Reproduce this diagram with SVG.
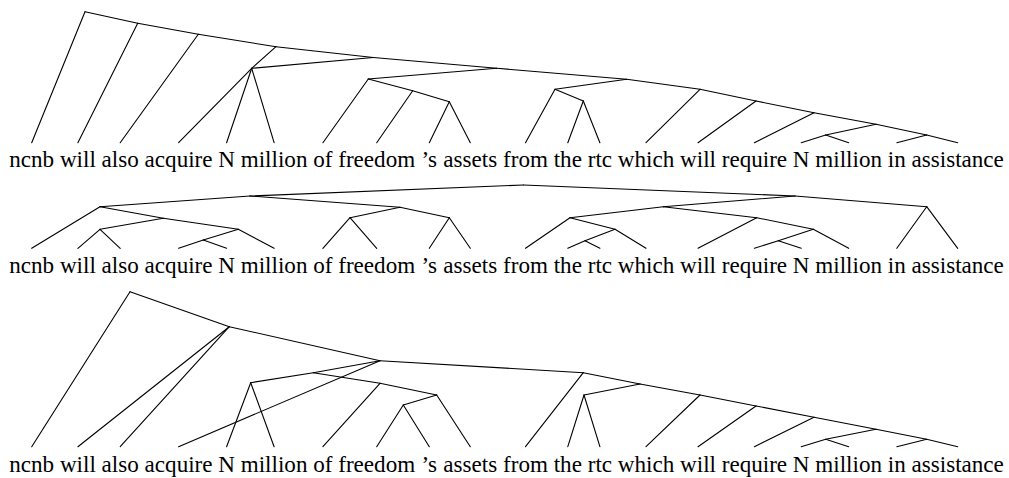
<svg xmlns="http://www.w3.org/2000/svg" width="1009" height="478" viewBox="0 0 1009 478">
<style>
.c line{stroke:#000;stroke-width:1.1;fill:none;stroke-linecap:round}
.w text{font-family:'Liberation Serif',serif;font-size:23.1px;fill:#000;text-anchor:middle}
</style>
<rect width="1009" height="478" fill="#fff"/>
<g id="connectors" class="c">
<!-- tree 1 -->
<line x1="85" y1="11.7" x2="31.7" y2="142.7"/>
<line x1="85" y1="11.7" x2="137.7" y2="23.3"/>
<line x1="137.7" y1="23.3" x2="77.9" y2="142.7"/>
<line x1="137.7" y1="23.3" x2="198.3" y2="34.3"/>
<line x1="198.3" y1="34.3" x2="120.2" y2="142.7"/>
<line x1="198.3" y1="34.3" x2="276" y2="46.7"/>
<line x1="276" y1="46.7" x2="251.7" y2="68.3"/>
<line x1="251.7" y1="68.3" x2="178.6" y2="142.7"/>
<line x1="251.7" y1="68.3" x2="226.6" y2="142.7"/>
<line x1="251.7" y1="68.3" x2="274.1" y2="142.7"/>
<line x1="251.7" y1="68.3" x2="373.3" y2="57.5"/>
<line x1="276" y1="46.7" x2="373.3" y2="57.5"/>
<line x1="373.3" y1="57.5" x2="496.7" y2="68.3"/>
<line x1="496.7" y1="68.3" x2="368.3" y2="79"/>
<line x1="368.3" y1="79" x2="322.9" y2="142.7"/>
<line x1="368.3" y1="79" x2="412.7" y2="90.7"/>
<line x1="412.7" y1="90.7" x2="376.7" y2="142.7"/>
<line x1="412.7" y1="90.7" x2="449.3" y2="101.7"/>
<line x1="449.3" y1="101.7" x2="429.3" y2="142.7"/>
<line x1="449.3" y1="101.7" x2="470.3" y2="142.7"/>
<line x1="496.7" y1="68.3" x2="626.7" y2="79.3"/>
<line x1="626.7" y1="79.3" x2="555" y2="89.3"/>
<line x1="555" y1="89.3" x2="525.5" y2="142.7"/>
<line x1="555" y1="89.3" x2="583.3" y2="101"/>
<line x1="583.3" y1="101" x2="567.8" y2="142.7"/>
<line x1="583.3" y1="101" x2="599.9" y2="142.7"/>
<line x1="626.7" y1="79.3" x2="700" y2="89.3"/>
<line x1="700" y1="89.3" x2="646" y2="142.7"/>
<line x1="700" y1="89.3" x2="756" y2="101"/>
<line x1="756" y1="101" x2="698" y2="142.7"/>
<line x1="756" y1="101" x2="814" y2="112.7"/>
<line x1="814" y1="112.7" x2="754.4" y2="142.7"/>
<line x1="814" y1="112.7" x2="876" y2="124.3"/>
<line x1="876" y1="124.3" x2="825.7" y2="135"/>
<line x1="825.7" y1="135" x2="801.2" y2="142.7"/>
<line x1="825.7" y1="135" x2="848.7" y2="142.7"/>
<line x1="876" y1="124.3" x2="926.7" y2="135"/>
<line x1="926.7" y1="135" x2="896.8" y2="142.7"/>
<line x1="926.7" y1="135" x2="957.7" y2="142.7"/>
<!-- tree 2 -->
<line x1="523.3" y1="185" x2="250" y2="196"/>
<line x1="523.3" y1="185" x2="795" y2="196"/>
<line x1="250" y1="196" x2="100" y2="206.7"/>
<line x1="250" y1="196" x2="400" y2="207.3"/>
<line x1="100" y1="206.7" x2="31.7" y2="248.3"/>
<line x1="100" y1="206.7" x2="163.3" y2="218.3"/>
<line x1="163.3" y1="218.3" x2="100" y2="229.3"/>
<line x1="100" y1="229.3" x2="77.9" y2="248.3"/>
<line x1="100" y1="229.3" x2="120.2" y2="248.3"/>
<line x1="163.3" y1="218.3" x2="238.3" y2="229.3"/>
<line x1="238.3" y1="229.3" x2="203.3" y2="240"/>
<line x1="203.3" y1="240" x2="178.6" y2="248.3"/>
<line x1="203.3" y1="240" x2="226.6" y2="248.3"/>
<line x1="238.3" y1="229.3" x2="274.1" y2="248.3"/>
<line x1="400" y1="207.3" x2="350" y2="217.7"/>
<line x1="350" y1="217.7" x2="322.9" y2="248.3"/>
<line x1="350" y1="217.7" x2="376.7" y2="248.3"/>
<line x1="400" y1="207.3" x2="449.3" y2="217.7"/>
<line x1="449.3" y1="217.7" x2="429.3" y2="248.3"/>
<line x1="449.3" y1="217.7" x2="470.3" y2="248.3"/>
<line x1="795" y1="196" x2="663.3" y2="206.7"/>
<line x1="663.3" y1="206.7" x2="570" y2="217.7"/>
<line x1="570" y1="217.7" x2="525.5" y2="248.3"/>
<line x1="570" y1="217.7" x2="615" y2="229.3"/>
<line x1="615" y1="229.3" x2="585" y2="240.7"/>
<line x1="585" y1="240.7" x2="567.8" y2="248.3"/>
<line x1="585" y1="240.7" x2="599.9" y2="248.3"/>
<line x1="615" y1="229.3" x2="646" y2="248.3"/>
<line x1="663.3" y1="206.7" x2="756.7" y2="217.7"/>
<line x1="756.7" y1="217.7" x2="698" y2="248.3"/>
<line x1="756.7" y1="217.7" x2="813.3" y2="229.3"/>
<line x1="813.3" y1="229.3" x2="778.3" y2="240.7"/>
<line x1="778.3" y1="240.7" x2="754.4" y2="248.3"/>
<line x1="778.3" y1="240.7" x2="801.2" y2="248.3"/>
<line x1="813.3" y1="229.3" x2="848.7" y2="248.3"/>
<line x1="795" y1="196" x2="926.7" y2="206.7"/>
<line x1="926.7" y1="206.7" x2="896.8" y2="248.3"/>
<line x1="926.7" y1="206.7" x2="957.7" y2="248.3"/>
<!-- tree 3 -->
<line x1="130" y1="291.7" x2="31.7" y2="446.7"/>
<line x1="130" y1="291.7" x2="229.3" y2="326.7"/>
<line x1="229.3" y1="326.7" x2="77.9" y2="446.7"/>
<line x1="229.3" y1="326.7" x2="120.2" y2="446.7"/>
<line x1="229.3" y1="326.7" x2="380" y2="360.7"/>
<line x1="380" y1="360.7" x2="178.6" y2="446.7"/>
<line x1="380" y1="360.7" x2="313.3" y2="372.7"/>
<line x1="313.3" y1="372.7" x2="250.7" y2="382.7"/>
<line x1="250.7" y1="382.7" x2="226.6" y2="446.7"/>
<line x1="250.7" y1="382.7" x2="274.1" y2="446.7"/>
<line x1="313.3" y1="372.7" x2="380" y2="383.3"/>
<line x1="380" y1="383.3" x2="322.9" y2="446.7"/>
<line x1="380" y1="383.3" x2="436.7" y2="395"/>
<line x1="436.7" y1="395" x2="403.3" y2="405"/>
<line x1="403.3" y1="405" x2="376.7" y2="446.7"/>
<line x1="403.3" y1="405" x2="429.3" y2="446.7"/>
<line x1="436.7" y1="395" x2="470.3" y2="446.7"/>
<line x1="380" y1="360.7" x2="583.3" y2="372.7"/>
<line x1="583.3" y1="372.7" x2="525.5" y2="446.7"/>
<line x1="583.3" y1="372.7" x2="640" y2="384"/>
<line x1="640" y1="384" x2="584" y2="395"/>
<line x1="584" y1="395" x2="567.8" y2="446.7"/>
<line x1="584" y1="395" x2="599.9" y2="446.7"/>
<line x1="640" y1="384" x2="700" y2="395"/>
<line x1="700" y1="395" x2="646" y2="446.7"/>
<line x1="700" y1="395" x2="756" y2="406"/>
<line x1="756" y1="406" x2="698" y2="446.7"/>
<line x1="756" y1="406" x2="814" y2="417.3"/>
<line x1="814" y1="417.3" x2="754.4" y2="446.7"/>
<line x1="814" y1="417.3" x2="876" y2="429.3"/>
<line x1="876" y1="429.3" x2="825.7" y2="439.3"/>
<line x1="825.7" y1="439.3" x2="801.2" y2="446.7"/>
<line x1="825.7" y1="439.3" x2="848.7" y2="446.7"/>
<line x1="876" y1="429.3" x2="926.7" y2="439.3"/>
<line x1="926.7" y1="439.3" x2="896.8" y2="446.7"/>
<line x1="926.7" y1="439.3" x2="957.7" y2="446.7"/>
</g>
<g id="row1" class="w" font-family="Liberation Serif, serif" font-size="23.1">
<g id="t1-ncnb"><text x="31.7" y="167">ncnb</text></g>
<g id="t1-will"><text x="77.9" y="167">will</text></g>
<g id="t1-also"><text x="120.2" y="167">also</text></g>
<g id="t1-acquire"><text x="178.6" y="167">acquire</text></g>
<g id="t1-N"><text x="226.6" y="167">N</text></g>
<g id="t1-million"><text x="274.1" y="167">million</text></g>
<g id="t1-of"><text x="322.9" y="167">of</text></g>
<g id="t1-freedom"><text x="376.7" y="167">freedom</text></g>
<g id="t1-s"><text x="429.3" y="167">’s</text></g>
<g id="t1-assets"><text x="470.3" y="167">assets</text></g>
<g id="t1-from"><text x="525.5" y="167">from</text></g>
<g id="t1-the"><text x="567.8" y="167">the</text></g>
<g id="t1-rtc"><text x="599.9" y="167">rtc</text></g>
<g id="t1-which"><text x="646" y="167">which</text></g>
<g id="t1-will2"><text x="698" y="167">will</text></g>
<g id="t1-require"><text x="754.4" y="167">require</text></g>
<g id="t1-N2"><text x="801.2" y="167">N</text></g>
<g id="t1-million2"><text x="848.7" y="167">million</text></g>
<g id="t1-in"><text x="896.8" y="167">in</text></g>
<g id="t1-assistance"><text x="957.7" y="167">assistance</text></g>
</g>
<g id="row2" class="w" font-family="Liberation Serif, serif" font-size="23.1">
<g id="t2-ncnb"><text x="31.7" y="273">ncnb</text></g>
<g id="t2-will"><text x="77.9" y="273">will</text></g>
<g id="t2-also"><text x="120.2" y="273">also</text></g>
<g id="t2-acquire"><text x="178.6" y="273">acquire</text></g>
<g id="t2-N"><text x="226.6" y="273">N</text></g>
<g id="t2-million"><text x="274.1" y="273">million</text></g>
<g id="t2-of"><text x="322.9" y="273">of</text></g>
<g id="t2-freedom"><text x="376.7" y="273">freedom</text></g>
<g id="t2-s"><text x="429.3" y="273">’s</text></g>
<g id="t2-assets"><text x="470.3" y="273">assets</text></g>
<g id="t2-from"><text x="525.5" y="273">from</text></g>
<g id="t2-the"><text x="567.8" y="273">the</text></g>
<g id="t2-rtc"><text x="599.9" y="273">rtc</text></g>
<g id="t2-which"><text x="646" y="273">which</text></g>
<g id="t2-will2"><text x="698" y="273">will</text></g>
<g id="t2-require"><text x="754.4" y="273">require</text></g>
<g id="t2-N2"><text x="801.2" y="273">N</text></g>
<g id="t2-million2"><text x="848.7" y="273">million</text></g>
<g id="t2-in"><text x="896.8" y="273">in</text></g>
<g id="t2-assistance"><text x="957.7" y="273">assistance</text></g>
</g>
<g id="row3" class="w" font-family="Liberation Serif, serif" font-size="23.1">
<g id="t3-ncnb"><text x="31.7" y="472">ncnb</text></g>
<g id="t3-will"><text x="77.9" y="472">will</text></g>
<g id="t3-also"><text x="120.2" y="472">also</text></g>
<g id="t3-acquire"><text x="178.6" y="472">acquire</text></g>
<g id="t3-N"><text x="226.6" y="472">N</text></g>
<g id="t3-million"><text x="274.1" y="472">million</text></g>
<g id="t3-of"><text x="322.9" y="472">of</text></g>
<g id="t3-freedom"><text x="376.7" y="472">freedom</text></g>
<g id="t3-s"><text x="429.3" y="472">’s</text></g>
<g id="t3-assets"><text x="470.3" y="472">assets</text></g>
<g id="t3-from"><text x="525.5" y="472">from</text></g>
<g id="t3-the"><text x="567.8" y="472">the</text></g>
<g id="t3-rtc"><text x="599.9" y="472">rtc</text></g>
<g id="t3-which"><text x="646" y="472">which</text></g>
<g id="t3-will2"><text x="698" y="472">will</text></g>
<g id="t3-require"><text x="754.4" y="472">require</text></g>
<g id="t3-N2"><text x="801.2" y="472">N</text></g>
<g id="t3-million2"><text x="848.7" y="472">million</text></g>
<g id="t3-in"><text x="896.8" y="472">in</text></g>
<g id="t3-assistance"><text x="957.7" y="472">assistance</text></g>
</g>
</svg>
